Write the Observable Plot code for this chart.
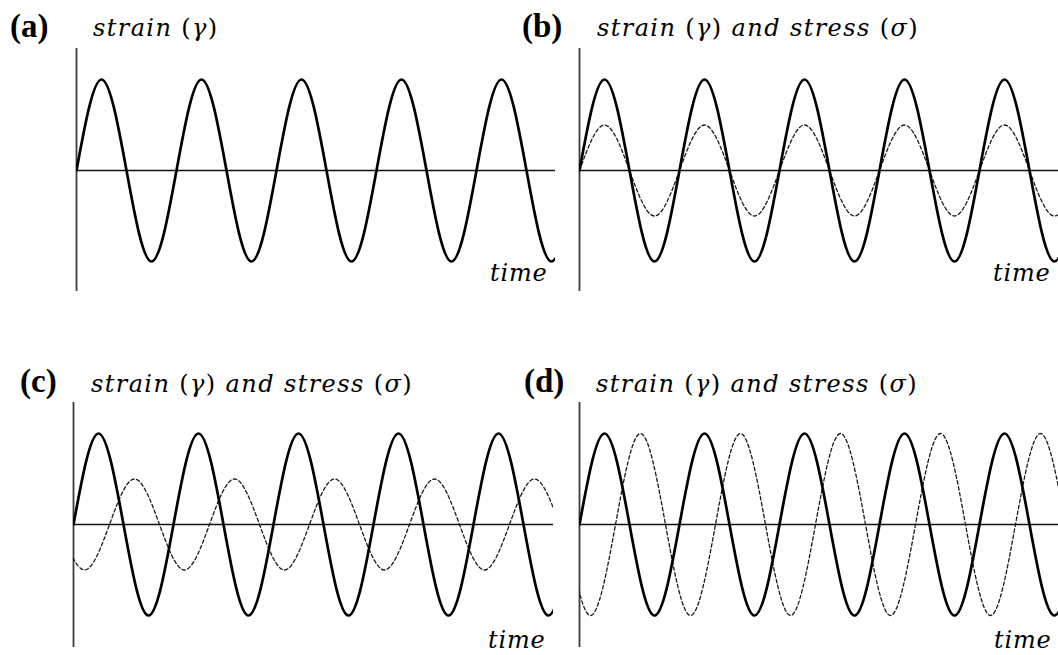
<!DOCTYPE html>
<html>
<head>
<meta charset="utf-8">
<script src="https://cdn.jsdelivr.net/npm/d3@7"></script>
<script src="https://cdn.jsdelivr.net/npm/@observablehq/plot@0.6"></script>
<style>
  body { margin: 0; background: #fff; }
  #fig { position: relative; width: 1058px; height: 655px; overflow: hidden; background: #fff; }
  #fig svg.panel { position: absolute; background: transparent; }
  #labels { position: absolute; left: 0; top: 0; pointer-events: none; }
</style>
</head>
<body>
<div id="fig"></div>
<script>
// Time is measured in oscillation cycles; amplitudes are relative to the strain amplitude.
// Each series lists its zero crossings and extrema; the lines are clipped to the panel frame.
const strainT = [0, 0.25, 0.5, 0.75, 1, 1.25, 1.5, 1.75, 2, 2.25, 2.5, 2.75, 3, 3.25, 3.5, 3.75, 4, 4.25, 4.5, 4.75, 5];
const strainV = [0, 1, 0, -1, 0, 1, 0, -1, 0, 1, 0, -1, 0, 1, 0, -1, 0, 1, 0, -1, 0];

// (b) stress in phase with the strain, half its amplitude
const stressInPhaseT = strainT;
const stressInPhaseV = [0, 0.5, 0, -0.5, 0, 0.5, 0, -0.5, 0, 0.5, 0, -0.5, 0, 0.5, 0, -0.5, 0, 0.5, 0, -0.5, 0];

// (c) and (d) stress shifted against the strain
const stressShiftT = [-0.14, 0.11, 0.36, 0.61, 0.86, 1.11, 1.36, 1.61, 1.86, 2.11, 2.36, 2.61, 2.86, 3.11, 3.36, 3.61, 3.86, 4.11, 4.36, 4.61, 4.86];
const stressHalfV  = [0, -0.5, 0, 0.5, 0, -0.5, 0, 0.5, 0, -0.5, 0, 0.5, 0, -0.5, 0, 0.5, 0, -0.5, 0, 0.5, 0];
const stressFullV  = [0, -1, 0, 1, 0, -1, 0, 1, 0, -1, 0, 1, 0, -1, 0, 1, 0, -1, 0, 1, 0];

// Text
const panelLetters = ["(a)", "(b)", "(c)", "(d)"];
const panelTitles = ["strain (γ)", "strain (γ) and stress (σ)", "strain (γ) and stress (σ)", "strain (γ) and stress (σ)"];
const axisLabel = "time";

// Layout of the four panels (page pixels)
const layout = [
  {left: 76,  right: 555,  top: 48,  bottom: 291, zero: 170, letter: [10, 37],  title: [93, 36],  time: [490, 281]},
  {left: 579, right: 1060, top: 48,  bottom: 291, zero: 170, letter: [522, 37], title: [597, 36], time: [993, 281]},
  {left: 73,  right: 553,  top: 402, bottom: 647, zero: 524, letter: [20, 392], title: [91, 392], time: [488, 648]},
  {left: 579, right: 1060, top: 402, bottom: 647, zero: 524, letter: [524, 392], title: [596, 392], time: [994, 648]}
];
const stressSeries = [
  null,
  {t: stressInPhaseT, v: stressInPhaseV},
  {t: stressShiftT, v: stressHalfV},
  {t: stressShiftT, v: stressFullV}
];

const fig = document.getElementById("fig");
const pad = 6;         // room around the frame for stroke widths
const cyclePx = 100;   // pixels per oscillation cycle
const ampPx = 91;      // pixels per unit amplitude

layout.forEach((L, i) => {
  const w = L.right - L.left + 2 * pad;
  const h = L.bottom - L.top + 2 * pad;
  const z = L.zero - L.top + pad;
  const marks = [
    Plot.ruleX([0], {stroke: "#3c3c3c", strokeWidth: 1.8}),
    Plot.ruleY([0], {stroke: "#111", strokeWidth: 1.4})
  ];
  const s = stressSeries[i];
  if (s) {
    marks.push(Plot.line(s.v, {x: s.t, y: s.v, curve: "natural", clip: true, stroke: "#1a1a1a", strokeWidth: 1.3, strokeDasharray: "3.5,2.5"}));
  }
  marks.push(Plot.line(strainV, {x: strainT, y: strainV, curve: "natural", clip: true, stroke: "#000", strokeWidth: 2.7}));
  const svg = Plot.plot({
    width: w,
    height: h,
    margin: pad,
    x: {axis: null, domain: [0, (L.right - L.left) / cyclePx]},
    y: {axis: null, domain: [-1, 1], range: [z + ampPx, z - ampPx]},
    marks
  });
  svg.classList.add("panel");
  svg.style.left = (L.left - pad) + "px";
  svg.style.top = (L.top - pad) + "px";
  svg.style.maxWidth = "none";
  fig.appendChild(svg);
});

// Panel letters, titles and axis labels
const labels = d3.select(fig).append("svg")
  .attr("id", "labels").attr("width", 1058).attr("height", 655);

layout.forEach((L, i) => {
  labels.append("text")
    .attr("x", L.letter[0]).attr("y", L.letter[1])
    .attr("font-family", "Liberation Serif").attr("font-weight", "bold").attr("font-size", 33)
    .attr("fill", "#000")
    .text(panelLetters[i]);

  const title = labels.append("text")
    .attr("x", L.title[0]).attr("y", L.title[1])
    .attr("font-family", "DejaVu Serif").attr("font-size", 24).attr("letter-spacing", 1.4)
    .attr("fill", "#000");
  panelTitles[i].split(/([()])/).filter(d => d !== "").forEach(part => {
    title.append("tspan")
      .attr("font-style", /[()]/.test(part) ? "normal" : "italic")
      .text(part);
  });

  labels.append("text")
    .attr("x", L.time[0]).attr("y", L.time[1])
    .attr("font-family", "DejaVu Serif").attr("font-style", "italic").attr("font-size", 24).attr("letter-spacing", 0.8)
    .attr("fill", "#000")
    .text(axisLabel);
});
</script>
</body>
</html>
